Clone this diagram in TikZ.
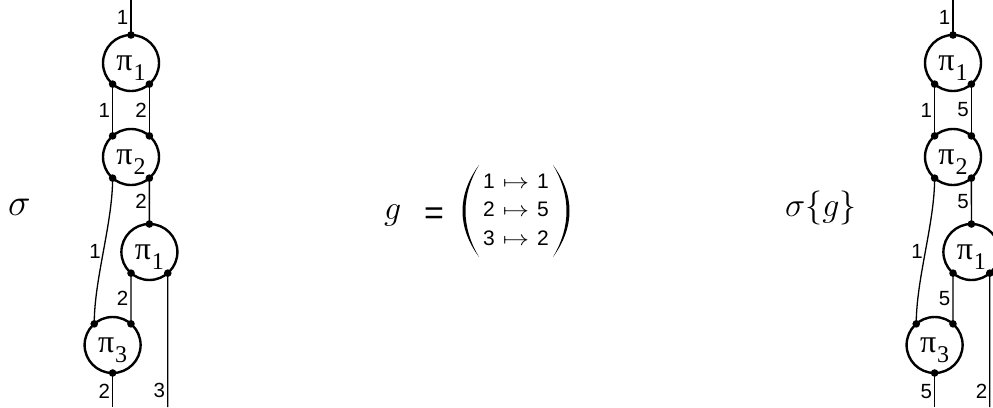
\RequirePackage{fix-cm}
\documentclass[tikz,border=0pt]{standalone}
\usepackage{fontspec}
\newfontfamily\lblfont{Liberation Sans}
\newfontfamily\pifont{Liberation Serif}
\usetikzlibrary{positioning}

\tikzset{
  blob/.style={
    circle, draw, line width=2.4pt, minimum size=56pt, inner sep=0pt,
    outer sep=0pt,
  },
  wire/.style={line width=1.3pt},
  wirelbl/.style={
    left, inner sep=2pt, font=\lblfont\fontsize{20.5}{22}\selectfont,
  },
  bigmath/.style={inner sep=0pt, font=\fontsize{34}{38}\selectfont},
}
\newcommand{\pisub}[1]{%
  {\pifont\fontsize{32}{34}\selectfont π}\kern1pt%
  \smash{\raisebox{-10pt}{\pifont\fontsize{24}{26}\selectfont #1}}}
\newcommand{\wmaps}{\scalebox{1.25}[1]{$\mapsto$}}

\begin{document}
\begin{tikzpicture}[x=1pt, y=-1pt]
\useasboundingbox (0,0) rectangle (993,407);
\clip (0,0) rectangle (993,407);

% sigma
\node[bigmath, font=\fontsize{38}{40}\selectfont, anchor=base west] (sigL)
  at (8,215) {$\sigma$};
\begin{scope}
  \node[blob] (ltop) at (131,63) {\pisub{1}};
  \node[blob] (lmid) at (131,157) {\pisub{2}};
  \node[blob] (lside) at (149.4,252) {\pisub{1}};
  \node[blob] (lbot) at (112.6,345) {\pisub{3}};
  \coordinate (lin) at (131,0);
  \coordinate (loutA) at (112.6,407);
  \coordinate (loutB) at (167.8,407);
  \draw[wire] (lin) -- node[wirelbl] (lw0) {1} (ltop.90);
  \draw[wire] (ltop.229) -- node[wirelbl] (lw1) {1} (lmid.131);
  \draw[wire] (ltop.311) -- node[wirelbl] (lw2) {2} (lmid.49);
  \draw[wire] (lmid.311) -- node[wirelbl] (lw3) {2} (lside.90);
  \draw[wire] (lmid.229) .. controls +(0,45) and +(0,-45) ..
    node[wirelbl, pos=.5] (lw4) {1} (lbot.131);
  \draw[wire] (lside.229) -- node[wirelbl] (lw5) {2} (lbot.49);
  \draw[wire] (lbot.270) -- node[wirelbl, pos=.55] (lw6) {2} (loutA);
  \draw[wire] (lside.311) -- node[wirelbl, pos=.88] (lw7) {3} (loutB);
  \foreach \p in {ltop.90, ltop.229, ltop.311, lmid.131, lmid.49, lmid.229,
    lmid.311, lside.90, lside.229, lside.311, lbot.131, lbot.49, lbot.270}
    \fill (\p) circle (3.8pt);
\end{scope}

% g
\node[bigmath, anchor=base west] (gsym) at (384,219) {$g$};
\node[inner sep=0pt, font=\lblfont\fontsize{34}{36}\selectfont] (eqsign)
  at (434,216) {=};
\node[inner sep=0pt, font=\lblfont\fontsize{21}{28.5}\selectfont] (gmap)
  at (516,211) {%
  \begin{tabular}{@{}c@{\hspace{8pt}}c@{\hspace{8pt}}c@{}}
    1 & \wmaps & 1\\
    2 & \wmaps & 5\\
    3 & \wmaps & 2
  \end{tabular}};
% parentheses
\fill (479,165) .. controls (457,195) and (457,227) .. (479,257)
  .. controls (461,227) and (461,195) .. (479,165) -- cycle;
\fill (553,165) .. controls (575,195) and (575,227) .. (553,257)
  .. controls (571,227) and (571,195) .. (553,165) -- cycle;

% sigma{g}
\node[bigmath, anchor=base west] (sigR) at (785,216) {$\sigma\{g\}$};
\begin{scope}[xshift=822pt]
  \node[blob] (rtop) at (131,63) {\pisub{1}};
  \node[blob] (rmid) at (131,157) {\pisub{2}};
  \node[blob] (rside) at (149.4,252) {\pisub{1}};
  \node[blob] (rbot) at (112.6,345) {\pisub{3}};
  \coordinate (rin) at (131,0);
  \coordinate (routA) at (112.6,407);
  \coordinate (routB) at (167.8,407);
  \draw[wire] (rin) -- node[wirelbl] (rw0) {1} (rtop.90);
  \draw[wire] (rtop.229) -- node[wirelbl] (rw1) {1} (rmid.131);
  \draw[wire] (rtop.311) -- node[wirelbl] (rw2) {5} (rmid.49);
  \draw[wire] (rmid.311) -- node[wirelbl] (rw3) {5} (rside.90);
  \draw[wire] (rmid.229) .. controls +(0,45) and +(0,-45) ..
    node[wirelbl, pos=.5] (rw4) {1} (rbot.131);
  \draw[wire] (rside.229) -- node[wirelbl] (rw5) {5} (rbot.49);
  \draw[wire] (rbot.270) -- node[wirelbl, pos=.55] (rw6) {5} (routA);
  \draw[wire] (rside.311) -- node[wirelbl, pos=.88] (rw7) {2} (routB);
  \foreach \p in {rtop.90, rtop.229, rtop.311, rmid.131, rmid.49, rmid.229,
    rmid.311, rside.90, rside.229, rside.311, rbot.131, rbot.49, rbot.270}
    \fill (\p) circle (3.8pt);
\end{scope}
\end{tikzpicture}
\end{document}
